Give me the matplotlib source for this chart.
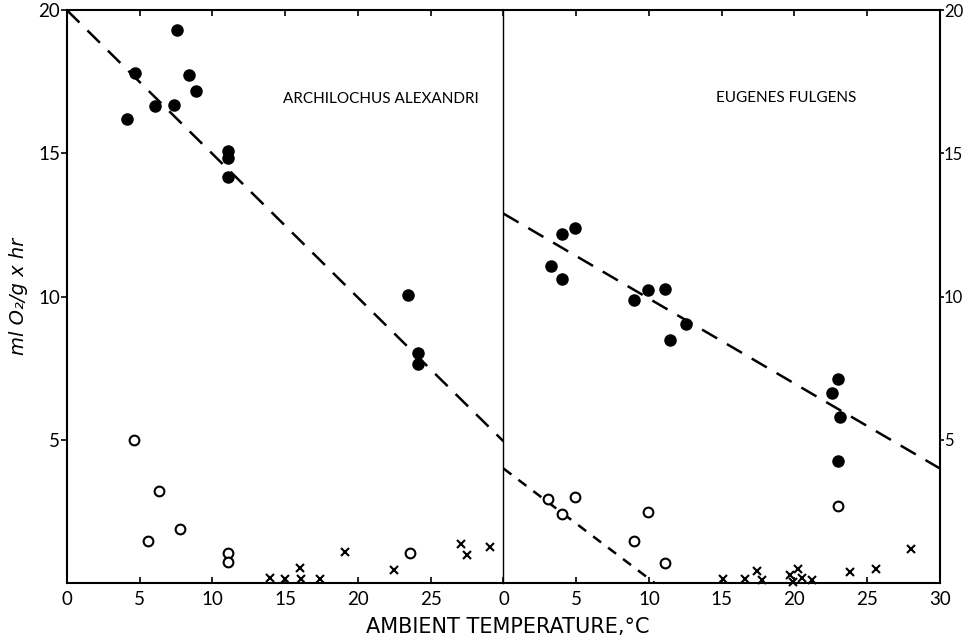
import matplotlib
matplotlib.use("Agg")
import matplotlib.pyplot as plt

plt.rcParams['font.family'] = ['Lato', 'DejaVu Sans']

# Archilochus alexandri (left panel)
alex_fill_x = [4.1, 4.66, 6.07, 7.35, 7.55, 8.42, 8.84, 11.1, 11.1, 11.1, 23.45, 24.1, 24.1]
alex_fill_y = [16.2, 17.8, 16.66, 16.7, 19.3, 17.73, 17.17, 15.09, 14.85, 14.16, 10.05, 8.03, 7.64]
alex_open_x = [4.6, 6.3, 5.6, 7.8, 11.1, 11.1, 23.6]
alex_open_y = [4.99, 3.21, 1.47, 1.87, 1.04, 0.72, 1.06]
alex_cross_x = [13.97, 15.0, 16.0, 16.1, 17.4, 19.1, 22.47, 27.1, 27.5, 29.1]
alex_cross_y = [0.16, 0.14, 0.51, 0.14, 0.14, 1.09, 0.45, 1.38, 0.99, 1.25]
alex_fit_x = [0, 30]
alex_fit_y = [20, 4.95]

# Eugenes fulgens (right panel)
eug_fill_x = [3.3, 4.0, 4.04, 4.9, 8.97, 9.93, 11.1, 11.45, 12.55, 22.55, 23.0, 23.1, 23.0]
eug_fill_y = [11.08, 12.17, 10.6, 12.41, 9.88, 10.23, 10.28, 8.48, 9.03, 6.64, 7.12, 5.8, 4.27]
eug_open_x = [3.03, 4.0, 4.95, 8.97, 9.93, 11.1, 23.0]
eug_open_y = [2.95, 2.4, 2.99, 1.47, 2.49, 0.71, 2.69]
eug_cross_x = [15.07, 16.6, 17.4, 17.8, 19.7, 19.9, 20.25, 20.5, 21.2, 23.8, 25.6, 28.0]
eug_cross_y = [0.13, 0.13, 0.43, 0.1, 0.28, 0.05, 0.48, 0.16, 0.1, 0.37, 0.49, 1.18]
eug_fit_x = [0, 30]
eug_fit_y = [12.9, 4.0]
eug_open_fit_x = [0, 10.4]
eug_open_fit_y = [4.0, 0.0]

fig = plt.figure(figsize=(9.65, 6.4), dpi=100)
ax1 = fig.add_axes([0.0694, 0.089, 0.4523, 0.895])
ax2 = fig.add_axes([0.5217, 0.089, 0.4523, 0.895])

for ax in (ax1, ax2):
    ax.set_xlim(0, 30)
    ax.set_ylim(0, 20)
    for s in ax.spines.values():
        s.set_linewidth(1.5)
    ax.tick_params(axis='x', which='major', direction='in', length=4, width=1.2,
                   top=True, labelsize=13.5, pad=6)

ax1.plot(alex_fit_x, alex_fit_y, color='black', lw=1.8, dashes=(7, 4.5))
ax1.plot(alex_fill_x, alex_fill_y, 'o', color='black', ms=8, clip_on=False)
ax1.plot(alex_open_x, alex_open_y, 'o', mfc='white', mec='black', mew=1.5, ms=7, clip_on=False)
ax1.plot(alex_cross_x, alex_cross_y, 'x', color='black', mew=1.5, ms=5.5, clip_on=False)
ax1.text(21.6, 16.9, 'ARCHILOCHUS ALEXANDRI', ha='center', va='center', fontsize=11)

ax2.plot(eug_fit_x, eug_fit_y, color='black', lw=1.8, dashes=(7, 4.5))
ax2.plot(eug_open_fit_x, eug_open_fit_y, color='black', lw=1.8, dashes=(4, 3.5))
ax2.plot(eug_fill_x, eug_fill_y, 'o', color='black', ms=8, clip_on=False)
ax2.plot(eug_open_x, eug_open_y, 'o', mfc='white', mec='black', mew=1.5, ms=7, clip_on=False)
ax2.plot(eug_cross_x, eug_cross_y, 'x', color='black', mew=1.5, ms=5.5, clip_on=False)
ax2.text(19.4, 16.95, 'EUGENES FULGENS', ha='center', va='center', fontsize=11)

ax1.set_xticks([0, 5, 10, 15, 20, 25])
ax2.set_xticks([0, 5, 10, 15, 20, 25, 30])
ax1.set_yticks([5, 10, 15, 20])
ax2.set_yticks([5, 10, 15, 20])
ax1.tick_params(axis='y', direction='out', length=4, width=1.2, labelsize=13.5, pad=1)
ax2.tick_params(axis='y', direction='out', length=3, width=1.2, labelsize=12, pad=0,
                left=False, labelleft=False, right=True, labelright=True)
ax1.spines['right'].set_visible(False)
ax2.spines['left'].set_linewidth(1.0)

ax1.set_ylabel('ml O\u2082/g x hr', fontsize=14, fontstyle='italic', labelpad=7,
               family=['DejaVu Sans'])
fig.text(0.526, 0.02, 'AMBIENT TEMPERATURE,\u00b0C', ha='center', va='center',
         fontsize=15, family=['DejaVu Sans'])

fig.savefig('out.png', dpi=100)
